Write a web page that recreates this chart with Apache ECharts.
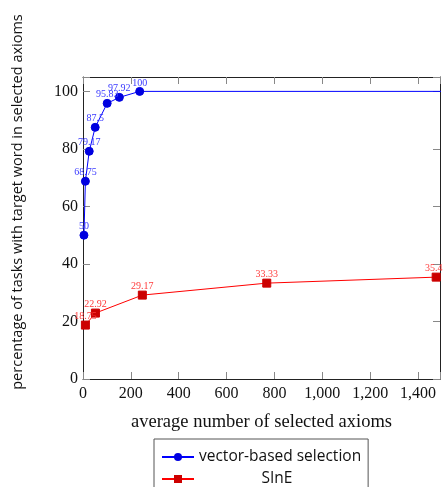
<!DOCTYPE html>
<html>
<head>
<meta charset="utf-8">
<script src="https://cdn.jsdelivr.net/npm/echarts@6/dist/echarts.min.js"></script>
<style>html,body{margin:0;padding:0;background:#fff;}#c{width:443px;height:487px;}</style>
</head>
<body>
<div id="c"></div>
<script>
var seriesNames = ['vector-based selection', 'SInE'];
var vectorX = [4, 10, 26, 51, 101, 152, 237, 2000];
var vectorY = [50, 68.75, 79.17, 87.5, 95.83, 97.92, 100, 100];
var sineX = [10, 52, 248, 768, 1476];
var sineY = [18.75, 22.92, 29.17, 33.33, 35.42];
var xTicks = [0, 200, 400, 600, 800, 1000, 1200, 1400];
var yTicks = [0, 20, 40, 60, 80, 100];
var xName = 'average number of selected axioms';
var yName = 'percentage of tasks with target word in selected axioms';

function pairs(xs, ys) { return xs.map(function (x, i) { return [x, ys[i]]; }); }

var serif = 'Liberation Serif';
var sans = 'Open Sans';
var tickStyle = { show: true, inside: true, length: 7, lineStyle: { color: '#888', width: 1 } };
var frameLine = { show: true, onZero: false, lineStyle: { color: '#222', width: 1 } };

var chart = echarts.init(document.getElementById('c'), null, { renderer: 'canvas' });
chart.setOption({
  animation: false,
  backgroundColor: '#fff',
  grid: { left: 83, top: 77, right: -1, bottom: 108 },
  xAxis: [{
    type: 'value', min: 0, max: 1492, interval: 200, position: 'bottom',
    axisLine: frameLine, axisTick: tickStyle, splitLine: { show: false },
    axisLabel: { margin: 7, color: '#111', fontFamily: serif, fontSize: 16,
      formatter: function (v) { return xTicks.indexOf(v) >= 0 ? v.toLocaleString('en-US') : ''; } },
    name: xName, nameLocation: 'middle', nameGap: 34,
    nameTextStyle: { fontFamily: serif, fontSize: 18.5, color: '#111' }
  }, {
    type: 'value', min: 0, max: 1492, interval: 200, position: 'top',
    axisLine: frameLine, axisTick: tickStyle, splitLine: { show: false }, axisLabel: { show: false }
  }],
  yAxis: [{
    type: 'value', min: 0, max: 105, interval: 20, position: 'left',
    axisLine: frameLine, axisTick: tickStyle, splitLine: { show: false },
    axisLabel: { margin: 5, color: '#111', fontFamily: serif, fontSize: 16,
      formatter: function (v) { return yTicks.indexOf(v) >= 0 ? String(v) : ''; } }
  }, {
    type: 'value', min: 0, max: 105, interval: 20, position: 'right',
    axisLine: frameLine, axisTick: tickStyle, splitLine: { show: false }, axisLabel: { show: false }
  }],
  legend: {
    orient: 'vertical', left: 154, top: 439, width: 223, height: 60,
    padding: [9, 7, 12, 7], itemGap: 4, itemWidth: 32, itemHeight: 10,
    borderColor: '#555', borderWidth: 1, borderRadius: 0,
    textStyle: { fontFamily: sans, fontSize: 15.5, lineHeight: 18, color: '#111',
      rich: { c: { width: 156, align: 'center', fontFamily: sans, fontSize: 15.5, lineHeight: 18, color: '#111' } } },
    formatter: function (n) { return n === 'SInE' ? '{c|' + n + '}' : n; },
    data: seriesNames
  },
  graphic: [{
    type: 'text', x: 18, y: 202, rotation: Math.PI / 2,
    style: { text: yName, fontFamily: sans, fontSize: 14.5, fill: '#111', align: 'center', verticalAlign: 'middle' }
  }],
  series: [{
    name: seriesNames[0], type: 'line', data: pairs(vectorX, vectorY), clip: true,
    symbol: 'circle', symbolSize: 8, showAllSymbol: true,
    lineStyle: { color: '#0000ff', width: 1 },
    itemStyle: { color: '#0000e0', borderColor: '#0000e0' },
    label: { show: true, position: 'top', distance: -1, fontFamily: serif, fontSize: 10, color: '#3a3aff',
      formatter: function (p) { return String(p.value[1]); } }
  }, {
    name: seriesNames[1], type: 'line', data: pairs(sineX, sineY), clip: true,
    symbol: 'rect', symbolSize: 8, showAllSymbol: true,
    lineStyle: { color: '#ff0000', width: 1 },
    itemStyle: { color: '#cc0000', borderColor: '#cc0000' },
    label: { show: true, position: 'top', distance: -1, fontFamily: serif, fontSize: 10, color: '#ff3a3a',
      formatter: function (p) { return String(p.value[1]); } }
  }]
});
</script>
</body>
</html>
